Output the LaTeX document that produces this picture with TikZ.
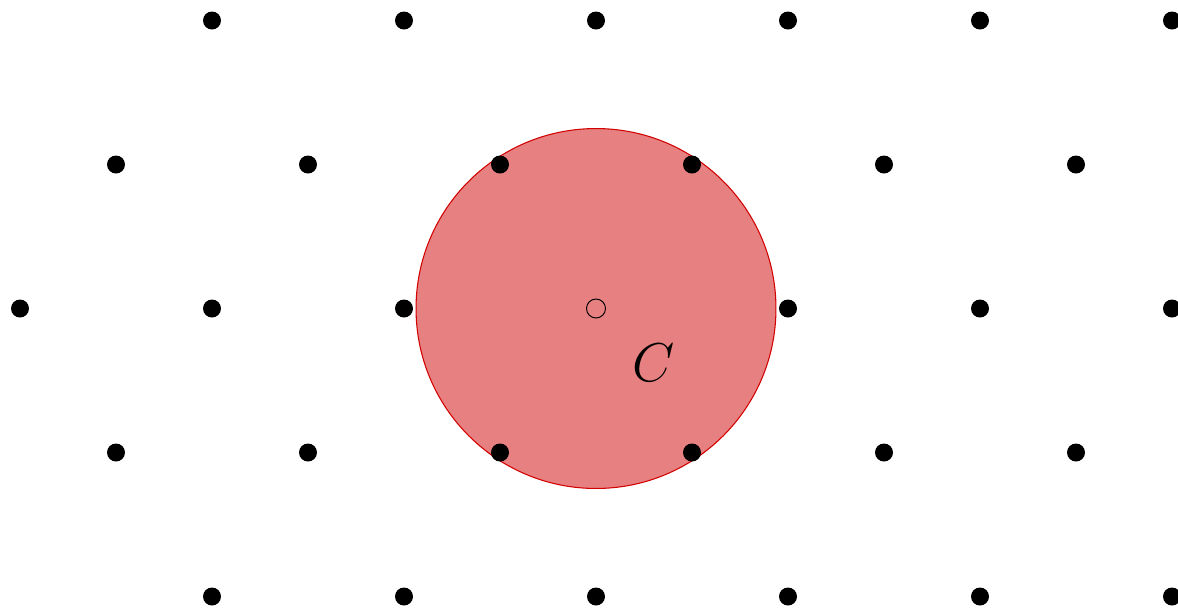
\documentclass[tikz,border=0pt]{standalone}
\usetikzlibrary{calc}
\definecolor{diskfill}{RGB}{231,128,128}
\definecolor{diskline}{RGB}{210,0,0}
\tikzset{
  latticedot/.style={circle,fill=black,inner sep=0pt,minimum size=0.36cm},
  centerdot/.style={circle,draw=black,line width=0.55pt,inner sep=0pt,minimum size=0.38cm},
  disk/.style={circle,draw=diskline,fill=diskfill,line width=0.6pt,inner sep=0pt,minimum size=7.2cm}
}
\begin{document}
\begin{tikzpicture}[x=0.02cm,y=-0.02cm]
\useasboundingbox (0,0) rectangle (1178,610);
\node[disk] (C) at (596,308.5) {};
% rows 0 and 4
\foreach \i/\x in {1/212,2/404,3/596,4/788,5/980,6/1172}{
  \node[latticedot] (a\i) at (\x,20.5) {};
  \node[latticedot] (e\i) at (\x,596.5) {};
}
% rows 1 and 3
\foreach \i/\x in {1/116,2/308,3/500,4/692,5/884,6/1076}{
  \node[latticedot] (b\i) at (\x,164.5) {};
  \node[latticedot] (d\i) at (\x,452.5) {};
}
% row 2
\foreach \i/\x in {1/20,2/212,3/404,5/788,6/980,7/1172}{
  \node[latticedot] (c\i) at (\x,308.5) {};
}
\node[centerdot] (center) at (596,308.5) {};
\node[font=\Huge,scale=1.25,transform shape] (label) at (654,363) {$C$};
\end{tikzpicture}
\end{document}
